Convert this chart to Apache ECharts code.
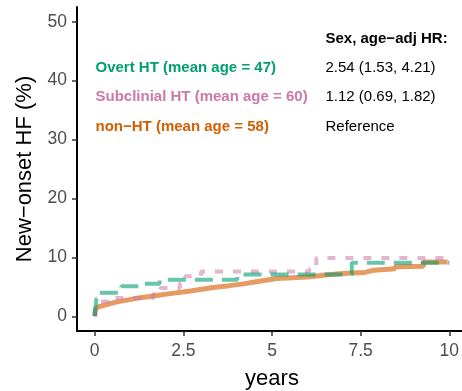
<!DOCTYPE html>
<html>
<head>
<meta charset="utf-8">
<script src="https://cdn.jsdelivr.net/npm/echarts@6/dist/echarts.min.js"></script>
<style>
  html, body { margin: 0; padding: 0; background: #fff; }
  #chart { width: 462px; height: 391px; }
</style>
</head>
<body>
<div id="chart"></div>
<script>
// ticks
const xTicks = [0, 2.5, 5, 7.5, 10];
const yTicks = [0, 10, 20, 30, 40, 50];

// cumulative incidence, [years, %]
const overtHT = [
  [0, 0], [0.02, 1.5], [0.05, 3.0], [0.12, 4.0], [0.75, 5.1], [1.35, 5.5],
  [1.83, 6.2], [4.02, 7.1], [7.25, 9.1], [10.0, 9.1]
];
const subclinicalHT = [
  [0, 0], [0.02, 1.0], [0.05, 1.9], [0.1, 2.5], [0.4, 3.1], [1.65, 3.8],
  [1.85, 4.8], [2.4, 5.6], [2.55, 6.8], [3.0, 7.6], [6.05, 8.0], [6.25, 9.9],
  [10.0, 9.9]
];
const nonHT = [
  [0, 0], [0.01, 0.8], [0.03, 1.3], [0.1, 1.6], [0.28, 1.9], [0.6, 2.4],
  [1.13, 3.0], [1.6, 3.4], [2.07, 3.8], [2.7, 4.3], [3.34, 4.9], [3.8, 5.2],
  [4.19, 5.5], [4.6, 5.9], [5.13, 6.4], [5.6, 6.55], [6.07, 6.7], [6.5, 7.0],
  [6.92, 7.2], [7.25, 7.35], [7.62, 7.45], [7.62, 7.75], [7.86, 7.8], [7.86, 7.95],
  [8.47, 8.05], [8.47, 8.4], [9.27, 8.5], [9.27, 9.2], [9.95, 9.2]
];

const groupLabels = ['Overt HT (mean age = 47)', 'Subclinial HT (mean age = 60)', 'non\u2212HT (mean age = 58)'];
const hrLabels = ['2.54 (1.53, 4.21)', '1.12 (0.69, 1.82)', 'Reference'];
const hrTitle = 'Sex, age\u2212adj HR:';
const colors = ['#009E73', '#CC79A7', '#D55E00'];

const font = 'Liberation Sans, Arial, sans-serif';

const chart = echarts.init(document.getElementById('chart'));

// annotation text, left column = group, right column = HR
const textRows = [67.7, 96.7, 126.7];
const graphics = [{
  type: 'text', x: 325.5, y: 39, z: 10,
  style: { text: hrTitle, font: 'bold 15px ' + font, fill: '#000', verticalAlign: 'middle' }
}];
groupLabels.forEach((t, i) => {
  graphics.push({
    type: 'text', x: 95.5, y: textRows[i], z: 10,
    style: { text: t, font: 'bold 15px ' + font, fill: colors[i], verticalAlign: 'middle' }
  });
  graphics.push({
    type: 'text', x: 325.5, y: textRows[i], z: 10,
    style: { text: hrLabels[i], font: '15px ' + font, fill: '#000', verticalAlign: 'middle' }
  });
});

chart.setOption({
  animation: false,
  backgroundColor: '#fff',
  grid: { left: 77, right: -5, top: 7, bottom: 60, containLabel: false, outerBoundsMode: 'none' },
  xAxis: {
    type: 'value', min: -0.5, max: 10.5,
    name: 'years', nameLocation: 'middle', nameGap: 37,
    nameTextStyle: { fontFamily: font, fontSize: 22, color: '#000' },
    axisLine: { show: true, onZero: false, lineStyle: { color: '#000', width: 2 } },
    axisTick: { show: true, length: 5, customValues: xTicks, lineStyle: { color: '#333', width: 1.5 } },
    axisLabel: { customValues: xTicks, margin: 11, fontFamily: font, fontSize: 17.5, color: '#4d4d4d' },
    splitLine: { show: false }
  },
  yAxis: {
    type: 'value', min: -2.5, max: 52.5,
    name: 'New\u2212onset HF (%)', nameLocation: 'middle', nameGap: 41,
    nameTextStyle: { fontFamily: font, fontSize: 22, color: '#000' },
    axisLine: { show: true, onZero: false, lineStyle: { color: '#000', width: 2 } },
    axisTick: { show: true, length: 5, customValues: yTicks, lineStyle: { color: '#333', width: 1.5 } },
    axisLabel: { customValues: yTicks, margin: 10, fontFamily: font, fontSize: 17.5, color: '#4d4d4d' },
    splitLine: { show: false }
  },
  graphic: graphics,
  series: [
    {
      name: groupLabels[2], type: 'line', data: nonHT, showSymbol: false, z: 2,
      lineStyle: { color: colors[2], width: 5, opacity: 0.62, cap: 'butt' }
    },
    {
      name: groupLabels[1], type: 'line', data: subclinicalHT, step: 'end', showSymbol: false, z: 3,
      lineStyle: { color: colors[1], width: 4, opacity: 0.55, type: [8, 10], cap: 'butt' }
    },
    {
      name: groupLabels[0], type: 'line', data: overtHT, step: 'end', showSymbol: false, z: 4,
      lineStyle: { color: colors[0], width: 4, opacity: 0.6, type: [18, 9], cap: 'butt' }
    }
  ]
});
</script>
</body>
</html>
